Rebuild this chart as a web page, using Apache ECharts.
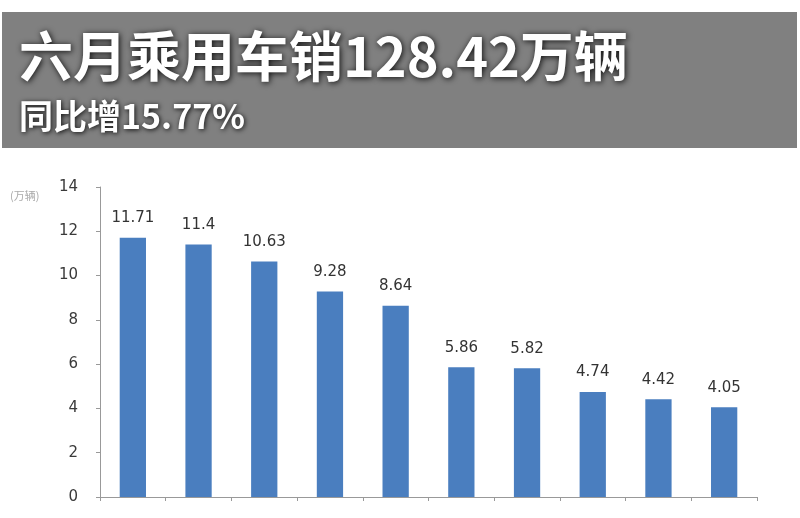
<!DOCTYPE html>
<html><head><meta charset="utf-8">
<script src="https://cdn.jsdelivr.net/npm/echarts@6/dist/echarts.min.js"></script>
<style>html,body{margin:0;padding:0;background:#fff}#c{width:800px;height:518px}</style>
</head><body><div id="c"></div>
<script>
const titleText = '六月乘用车销128.42万辆';
const subtitleText = '同比增15.77%';
const unitLabel = '(万辆)';
const categories = ['1','2','3','4','5','6','7','8','9','10'];
const sales = [11.71, 11.4, 10.63, 9.28, 8.64, 5.86, 5.82, 4.74, 4.42, 4.05];
const labels = ['11.71','11.4','10.63','9.28','8.64','5.86','5.82','4.74','4.42','4.05'];

const chart = echarts.init(document.getElementById('c'));
chart.setOption({
  animation: false,
  backgroundColor: '#fff',
  graphic: [
    { type: 'rect', shape: { x: 2, y: 12, width: 795, height: 136 }, style: { fill: '#808080' }, z: -1 },
    { type: 'text', left: 10, top: 190, style: { text: unitLabel, fill: '#aaa', font: '11px "Noto Sans CJK SC"' } }
  ],
  title: [
    { text: titleText, left: 14, top: 24,
      textStyle: { color: '#fff', fontSize: 54, fontWeight: 'bold', fontFamily: '"Noto Sans CJK SC"',
        textShadowColor: 'rgba(0,0,0,0.9)', textShadowBlur: 6, textShadowOffsetX: 1, textShadowOffsetY: 1 } },
    { text: subtitleText, left: 14, top: 94,
      textStyle: { color: '#fff', fontSize: 34, fontWeight: 'bold', fontFamily: '"Noto Sans CJK SC"',
        textShadowColor: 'rgba(0,0,0,0.9)', textShadowBlur: 5, textShadowOffsetX: 1, textShadowOffsetY: 1 } }
  ],
  grid: { left: 100, right: 43, top: 187, bottom: 21 },
  xAxis: {
    type: 'category', data: categories,
    axisLine: { lineStyle: { color: '#999' } },
    axisTick: { show: true, length: 4, lineStyle: { color: '#999' } },
    axisLabel: { show: false }
  },
  yAxis: {
    type: 'value', min: 0, max: 14, interval: 2,
    axisLine: { show: true, lineStyle: { color: '#999' } },
    axisTick: { show: true, length: 4, lineStyle: { color: '#999' } },
    splitLine: { show: false },
    axisLabel: { color: '#3a3a3a', fontSize: 15, fontFamily: '"DejaVu Sans"', margin: 22 }
  },
  series: [{
    type: 'bar', data: sales, barWidth: '40%',
    itemStyle: { color: '#4a7ebf' },
    label: { show: true, position: 'top', distance: 12, color: '#333', fontSize: 15, fontFamily: '"DejaVu Sans"',
      formatter: p => labels[p.dataIndex] }
  }]
});
</script></body></html>
